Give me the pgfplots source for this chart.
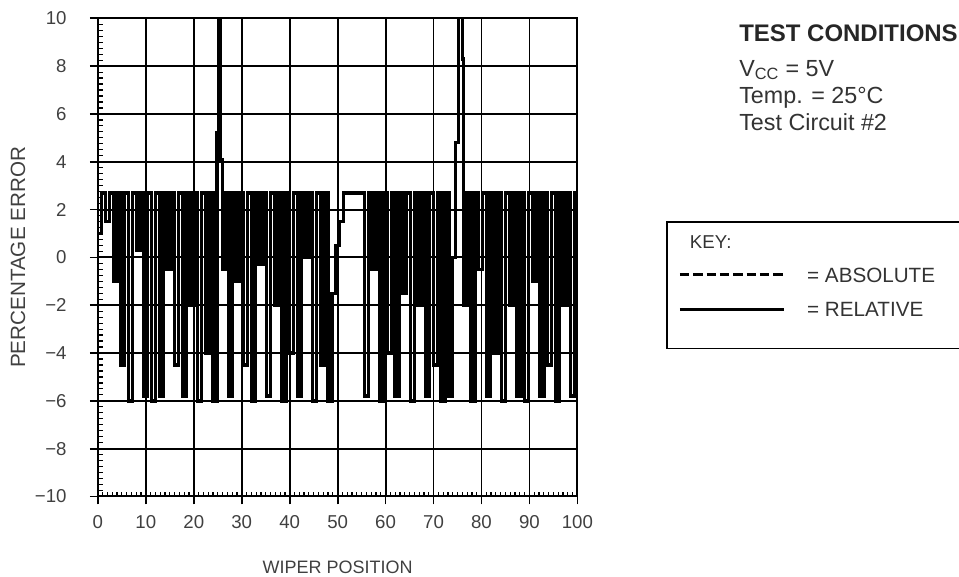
\documentclass[border=0pt]{standalone}
\usepackage{pgfplots}
\pgfplotsset{compat=1.18}
\usepackage{fontspec}
\setmainfont{Liberation Sans}
\begin{document}
\begin{tikzpicture}[x=1pt,y=1pt]
\useasboundingbox (-73.5,-60) rectangle (646.5,372.75);
\begin{axis}[
  at={(0,0)}, anchor=south west,
  scale only axis, width=360pt, height=359pt,
  xmin=0, xmax=100, ymin=-10, ymax=10,
  xtick={0,10,...,100}, ytick={-10,-8,...,10},
  xticklabels={0,10,20,30,40,50,60,70,80,90,100},
  yticklabels={−10,−8,−6,−4,−2,0,2,4,6,8,10},
  xtick pos=bottom, ytick pos=left,
  tick align=outside, major tick length=6pt,
  extra x ticks={0,1,...,100}, extra x tick labels={},
  extra x tick style={grid=none, tick align=inside, major tick length=3.5pt, tick style={line width=0.9pt}},
  extra y ticks={-10,-9.75,...,10}, extra y tick labels={},
  extra y tick style={grid=none, tick align=inside, major tick length=3.5pt, tick style={line width=0.9pt}},
  grid=major,
  major grid style={black, line width=1.4pt},
  axis line style={line width=1.5pt},
  tick style={black, line width=1.3pt},
  ticklabel style={font=\fontsize{14}{16}\selectfont, text=black!75},
  yticklabel style={xshift=-14pt},
  xticklabel style={yshift=-5pt},
  xlabel={WIPER POSITION}, ylabel={PERCENTAGE ERROR},
  xlabel style={font=\fontsize{13.5}{16}\selectfont, text=black!75, at={(axis description cs:0.5,-0.1483)}, anchor=center},
  ylabel style={font=\fontsize{15.5}{16}\selectfont, text=black!75, at={(axis description cs:-0.1667,0.5)}, anchor=center},
]
\addplot[const plot, black, line width=2.6pt] coordinates {
(0,1.0)(0.8,2.7)(1.6,1.5)(2.4,2.7)(3.2,-1.0)(4.0,2.7)(4.8,-4.5)(5.6,2.7)(6.4,-6.0)(7.2,2.7)
(8.0,0.3)(8.8,2.7)(9.6,-5.8)(10.4,2.7)(11.2,-6.0)(12.0,2.7)(12.8,-5.8)(13.6,2.7)(14.4,-0.5)(15.2,2.7)
(16.0,-4.5)(16.8,2.7)(17.6,-5.8)(18.4,2.7)(19.2,-2.0)(20.0,2.7)(20.8,-6.0)(21.6,2.7)(22.4,-4.0)(23.2,2.7)
(24.0,-6.0)(24.8,5.2)(25.2,10.5)(25.6,4.1)(26.0,-0.5)(26.6,2.7)(27.2,-5.8)(28.0,2.7)(28.8,-1.0)(29.6,2.7)
(30.4,-4.5)(31.2,2.7)(32.0,-6.0)(32.8,2.7)(33.6,-0.3)(34.4,2.7)(35.2,-5.8)(36.0,2.7)(36.8,-2.0)(37.6,2.7)
(38.4,-6.0)(39.2,2.7)(40.0,-4.0)(40.8,2.7)(41.6,-5.8)(42.4,2.7)(43.2,0.0)(44.0,2.7)(44.8,-6.0)(45.6,2.7)
(46.4,-4.5)(47.2,2.7)(48.0,-6.0)(48.8,-1.5)(49.6,0.5)(50.4,1.5)(51.2,2.7)(55.6,-5.8)(56.4,2.7)(57.2,-0.5)
(58.0,2.7)(58.8,-6.0)(59.6,2.7)(60.4,-4.0)(61.2,2.7)(62.0,-5.8)(62.8,2.7)(63.6,-1.5)(64.4,2.7)(65.2,-6.0)
(66.0,2.7)(66.8,-2.0)(67.6,2.7)(68.4,-5.8)(69.2,2.7)(70.0,-4.5)(70.8,2.7)(71.6,-6.0)(72.4,2.7)(73.2,-5.8)
(74.0,0.0)(74.6,4.8)(75.2,10.5)(76.0,8.3)(76.3,-2.0)(77.0,2.7)(77.8,-6.0)(78.6,2.7)(79.4,-0.5)(80.2,2.7)
(81.0,-5.8)(81.8,2.7)(82.6,-4.0)(83.4,2.7)(84.2,-6.0)(85.0,2.7)(85.8,-2.0)(86.6,2.7)(87.4,-5.8)(88.2,2.7)
(89.0,-6.0)(89.8,2.7)(90.6,-1.0)(91.4,2.7)(92.2,-5.8)(93.0,2.7)(93.8,-4.5)(94.6,2.7)(95.4,-6.0)(96.2,2.7)
(97.0,-2.0)(97.8,2.7)(98.6,-5.8)(99.4,2.7)(99.7,-4.3)(100,-4.3)
};
\end{axis}
% test conditions
\node[anchor=base west, font=\fontsize{18}{20}\selectfont\bfseries, text=black!85] at (478,341.25) {TEST CONDITIONS};
\node[anchor=base west, font=\fontsize{17.5}{20}\selectfont, text=black!80] at (478,315.5) {V\textsubscript{CC} = 5V};
\node[anchor=base west, font=\fontsize{17.5}{20}\selectfont, text=black!80] at (478,295.25) {Temp. = 25\textdegree C};
\node[anchor=base west, font=\fontsize{17.5}{20}\selectfont, text=black!80] at (478,274.5) {Test Circuit \#2};
% key box
\draw[line width=1.3pt] (660,206.25) -- (427.5,206.25) -- (427.5,111) -- (660,111);
\node[anchor=base west, font=\fontsize{14}{16}\selectfont, text=black!80] at (441,186) {KEY:};
\draw[line width=2.2pt, dash pattern=on 7pt off 3pt] (437,166.5) -- (515,166.5);
\node[anchor=base west, font=\fontsize{15.5}{17}\selectfont, text=black!80] at (529,161) {= ABSOLUTE};
\draw[line width=2.2pt] (437,140.25) -- (515,140.25);
\node[anchor=base west, font=\fontsize{15.5}{17}\selectfont, text=black!80] at (529,135) {= RELATIVE};
\end{tikzpicture}
\end{document}
